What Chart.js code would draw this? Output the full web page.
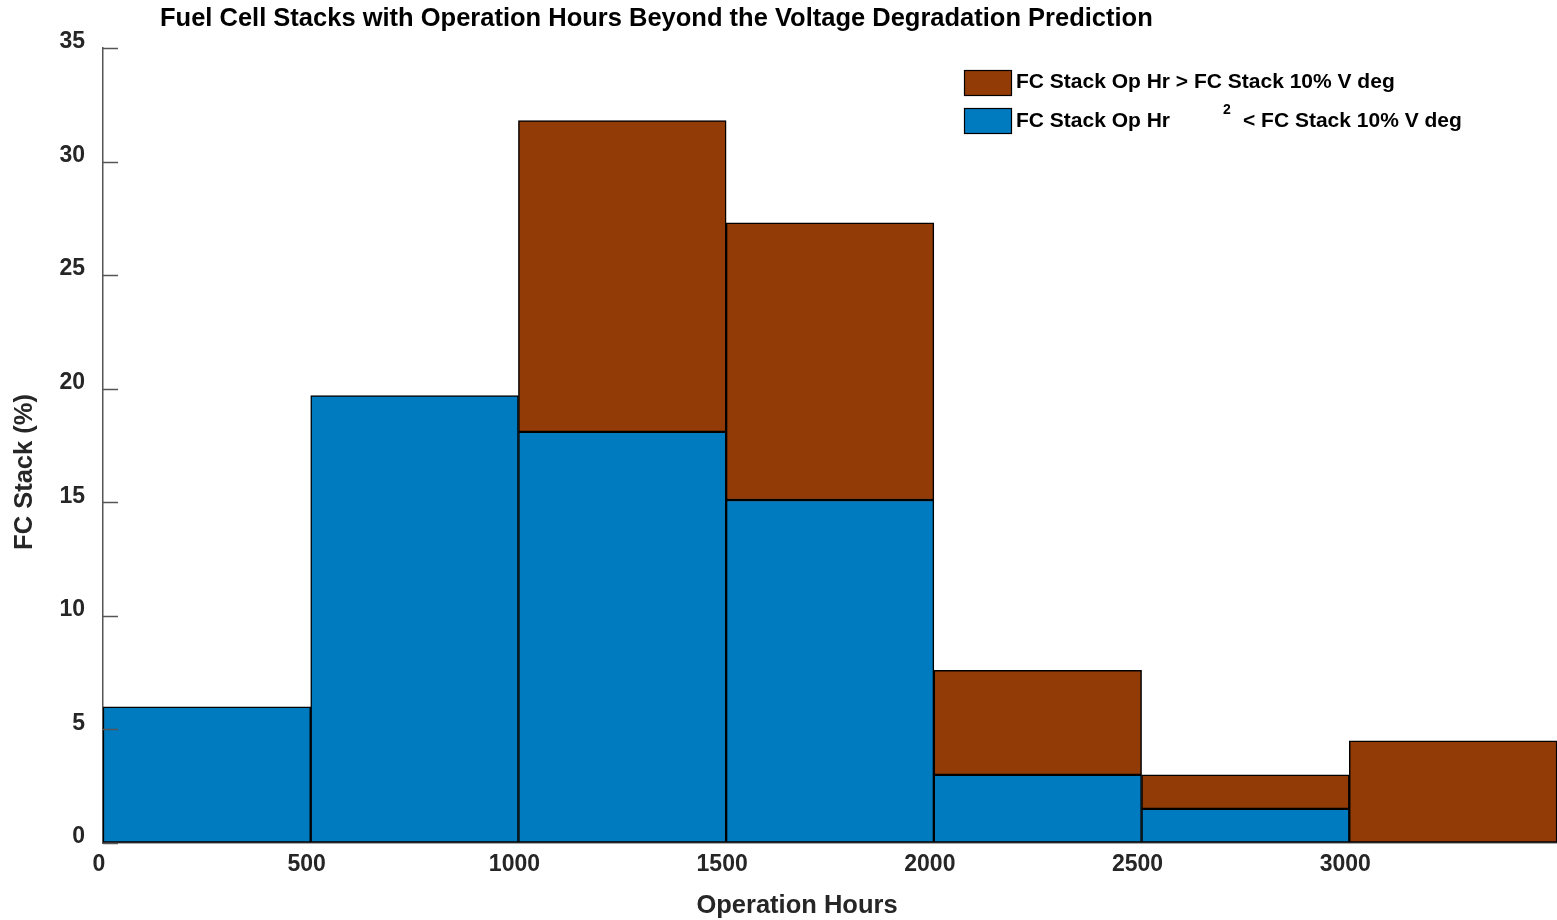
<!DOCTYPE html>
<html>
<head>
<meta charset="utf-8">
<script src="https://cdn.jsdelivr.net/npm/chart.js@4.4.1/dist/chart.umd.min.js"></script>
<style>
  html, body { margin: 0; padding: 0; background: #fff; }
  canvas { display: block; }
</style>
</head>
<body>
<canvas id="fcChart" width="1557" height="920"></canvas>
<script>
// bins of 500 h, values in % of stacks
const binCenters = [250, 750, 1250, 1750, 2250, 2750, 3250];
const belowDeg   = [6.0, 19.7, 18.1, 15.1, 3.0, 1.5, 0];
const aboveDeg   = [0, 0, 13.7, 12.2, 4.6, 1.5, 4.5];
const yTickVals  = [0, 5, 10, 15, 20, 25, 30, 35];
const xTickVals  = [0, 500, 1000, 1500, 2000, 2500, 3000];

const titleText  = 'Fuel Cell Stacks with Operation Hours Beyond the Voltage Degradation Prediction';
const xTitle     = 'Operation Hours';
const yTitle     = 'FC Stack (%)';
const labelAbove = 'FC Stack Op Hr > FC Stack 10% V deg';
const labelBelow = ['FC Stack Op Hr', '2', '< FC Stack 10% V deg'];

const BLUE  = '#007bbf';
const BROWN = '#923b06';
const FONT  = '"Liberation Sans", Arial, Helvetica, sans-serif';

const toPts = vals => vals.map((v, i) => ({ x: binCenters[i], y: v }));

// titles, legend, inner y ticks
const decor = {
  id: 'decor',
  afterDraw(c) {
    const ctx = c.ctx;
    const y = c.scales.y;
    const area = c.chartArea;
    ctx.save();

    ctx.strokeStyle = '#555';
    ctx.lineWidth = 1.5;
    yTickVals.forEach(v => {
      const py = Math.round(y.getPixelForValue(v)) + 0.5;
      ctx.beginPath();
      ctx.moveTo(area.left, py);
      ctx.lineTo(area.left + 15, py);
      ctx.stroke();
    });

    ctx.fillStyle = '#000';
    ctx.textBaseline = 'middle';
    ctx.textAlign = 'left';
    ctx.font = `bold 25.5px ${FONT}`;
    ctx.fillText(titleText, 160, 19);

    ctx.fillStyle = '#262626';
    ctx.textAlign = 'center';
    ctx.font = `bold 25.5px ${FONT}`;
    ctx.fillText(xTitle, 797, 906);
    ctx.save();
    ctx.translate(25, 472);
    ctx.rotate(-Math.PI / 2);
    ctx.fillText(yTitle, 0, 0);
    ctx.restore();

    // legend
    ctx.lineWidth = 1.2;
    ctx.strokeStyle = '#000';
    ctx.fillStyle = BROWN;
    ctx.fillRect(964.5, 70.5, 47, 25);
    ctx.strokeRect(964.5, 70.5, 47, 25);
    ctx.fillStyle = BLUE;
    ctx.fillRect(964.5, 108.5, 47, 25);
    ctx.strokeRect(964.5, 108.5, 47, 25);

    ctx.fillStyle = '#000';
    ctx.textAlign = 'left';
    ctx.font = `bold 21px ${FONT}`;
    ctx.fillText(labelAbove, 1016, 82);
    ctx.fillText(labelBelow[0], 1016, 121);
    ctx.font = `bold 14px ${FONT}`;
    ctx.fillText(labelBelow[1], 1223, 110);
    ctx.font = `bold 21px ${FONT}`;
    ctx.fillText(labelBelow[2], 1243, 121);

    ctx.restore();
  }
};

new Chart(document.getElementById('fcChart'), {
  type: 'bar',
  data: {
    datasets: [
      {
        label: labelBelow.join(' '),
        data: toPts(belowDeg),
        backgroundColor: BLUE,
        borderColor: '#000',
        borderWidth: 1.5,
        borderSkipped: false,
        barPercentage: 1,
        categoryPercentage: 1,
      },
      {
        label: labelAbove,
        data: toPts(aboveDeg),
        backgroundColor: BROWN,
        borderColor: '#000',
        borderWidth: 1.5,
        borderSkipped: false,
        barPercentage: 1,
        categoryPercentage: 1,
      },
    ],
  },
  options: {
    responsive: false,
    animation: false,
    layout: { padding: { top: 48, right: 0, left: 0, bottom: 0 } },
    plugins: {
      legend: { display: false },
      title: { display: false },
      tooltip: { enabled: false },
    },
    scales: {
      x: {
        type: 'linear',
        stacked: true,
        offset: false,
        min: 0,
        max: 3500,
        afterFit: s => { s.height = 77; },
        afterBuildTicks: s => { s.ticks = xTickVals.map(v => ({ value: v })); },
        ticks: {
          color: '#262626',
          font: { family: FONT, size: 23, weight: 'bold' },
          padding: 8,
          maxRotation: 0,
          labelOffset: -4,
          callback: v => String(v),
        },
        grid: { display: true, drawOnChartArea: false, drawTicks: false },
        border: { display: true, color: '#555', width: 1.5 },
      },
      y: {
        stacked: true,
        min: 0,
        max: 35,
        afterFit: s => { s.width = 103; },
        afterBuildTicks: s => { s.ticks = yTickVals.map(v => ({ value: v })); },
        ticks: {
          color: '#262626',
          font: { family: FONT, size: 23, weight: 'bold' },
          padding: 18,
          labelOffset: -6,
        },
        grid: { display: true, drawOnChartArea: false, drawTicks: false },
        border: { display: true, color: '#555', width: 1.5 },
      },
    },
  },
  plugins: [decor],
});
</script>
</body>
</html>
